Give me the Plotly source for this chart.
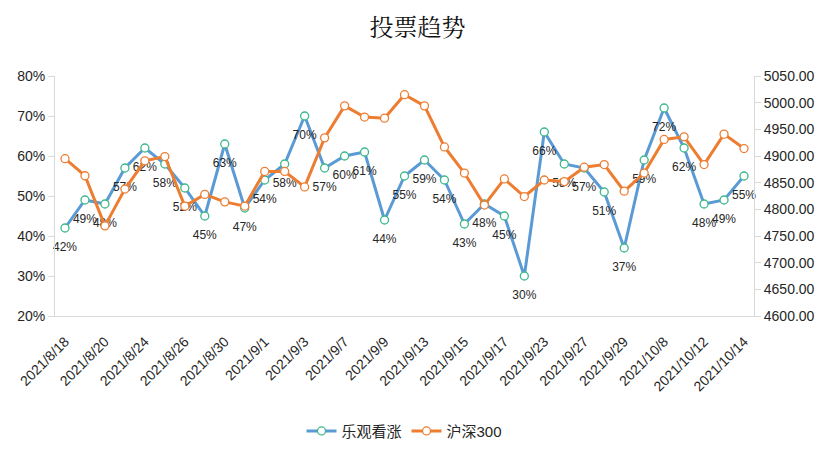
import plotly.graph_objects as go

dates = ["2021/8/18", "2021/8/19", "2021/8/20", "2021/8/23", "2021/8/24", "2021/8/25",
         "2021/8/26", "2021/8/27", "2021/8/30", "2021/8/31", "2021/9/1", "2021/9/2",
         "2021/9/3", "2021/9/6", "2021/9/7", "2021/9/8", "2021/9/9", "2021/9/10",
         "2021/9/13", "2021/9/14", "2021/9/15", "2021/9/16", "2021/9/17", "2021/9/22",
         "2021/9/23", "2021/9/24", "2021/9/27", "2021/9/28", "2021/9/29", "2021/9/30",
         "2021/10/8", "2021/10/11", "2021/10/12", "2021/10/13", "2021/10/14"]

bullish_pct = [42, 49, 48, 57, 62, 58, 52, 45, 63, 47, 54, 58, 70, 57, 60, 61, 44, 55,
               59, 54, 43, 48, 45, 30, 66, 58, 57, 51, 37, 59, 72, 62, 48, 49, 55]

hs300 = [4895, 4863, 4769, 4838, 4891, 4899, 4806, 4828, 4814, 4806, 4871, 4871,
         4842, 4934, 4994, 4973, 4971, 5015, 4994, 4917, 4868, 4808, 4857, 4824,
         4855, 4852, 4879, 4884, 4834, 4868, 4931, 4936, 4884, 4941, 4914]

shown_ticks = dates[::2]

bullish = [v / 100 for v in bullish_pct]

font_main = "Arial, Liberation Sans, Noto Sans CJK SC, sans-serif"

fig = go.Figure()
fig.add_trace(go.Scatter(
    x=dates, y=bullish, name="乐观看涨", mode="lines+markers",
    line=dict(color="#5B9BD5", width=3),
    marker=dict(symbol="circle", size=8, color="white",
                line=dict(color="#3DB88A", width=1.3)),
    yaxis="y", cliponaxis=False,
))
# data labels (placed below points, offset by an invisible marker size)
fig.add_trace(go.Scatter(
    x=dates, y=bullish, mode="markers+text", showlegend=False, hoverinfo="skip",
    marker=dict(size=21, opacity=0),
    text=[f"{v}%" for v in bullish_pct], textposition="bottom center",
    textfont=dict(size=12, color="#262626", family=font_main),
    yaxis="y", cliponaxis=False,
))
fig.add_trace(go.Scatter(
    x=dates, y=hs300, name="沪深300", mode="lines+markers",
    line=dict(color="#ED7D31", width=3),
    marker=dict(symbol="circle", size=8, color="white",
                line=dict(color="#ED7D31", width=1.3)),
    yaxis="y2", cliponaxis=False,
))

# page has an 8px body margin, so the figure is sized/offset to compensate
fig.update_layout(
    width=819, height=465,
    margin=dict(l=47, r=73, t=68, b=157, autoexpand=False),
    paper_bgcolor="white", plot_bgcolor="white",
    font=dict(family=font_main, color="#262626"),
    title=dict(text="投票趋势", x=0.5, xanchor="center", y=0.957, yanchor="middle",
               font=dict(size=24, color="#111111",
                         family="Noto Serif CJK SC, Noto Sans CJK SC, serif")),
    xaxis=dict(type="category", range=[-0.5, len(dates) - 0.5],
               tickmode="array", tickvals=shown_ticks, ticktext=shown_ticks,
               tickangle=-45, tickfont=dict(size=14, color="#262626"),
               showgrid=False, showline=True, linecolor="#D9D9D9", linewidth=1,
               ticks="outside", ticklen=11, tickcolor="rgba(0,0,0,0)",
               zeroline=False, automargin=False),
    yaxis=dict(range=[0.2, 0.8], dtick=0.1, tickformat=".0%",
               tickfont=dict(size=14, color="#262626"),
               showgrid=False, showline=True, linecolor="#D9D9D9", linewidth=1,
               ticks="outside", ticklen=6, tickcolor="#D9D9D9", zeroline=False,
               automargin=False),
    yaxis2=dict(range=[4600, 5050], dtick=50, tickformat=".2f", overlaying="y",
                side="right", tickfont=dict(size=14, color="#262626"),
                showgrid=False, showline=True, linecolor="#D9D9D9", linewidth=1,
                ticks="outside", ticklen=6, tickcolor="#D9D9D9", zeroline=False,
                automargin=False),
    legend=dict(orientation="h", x=0.5, xanchor="center", y=-0.48, yanchor="middle",
                font=dict(size=15, color="#262626"), bgcolor="rgba(0,0,0,0)"),
    showlegend=True,
)

fig.write_html("out.html")
